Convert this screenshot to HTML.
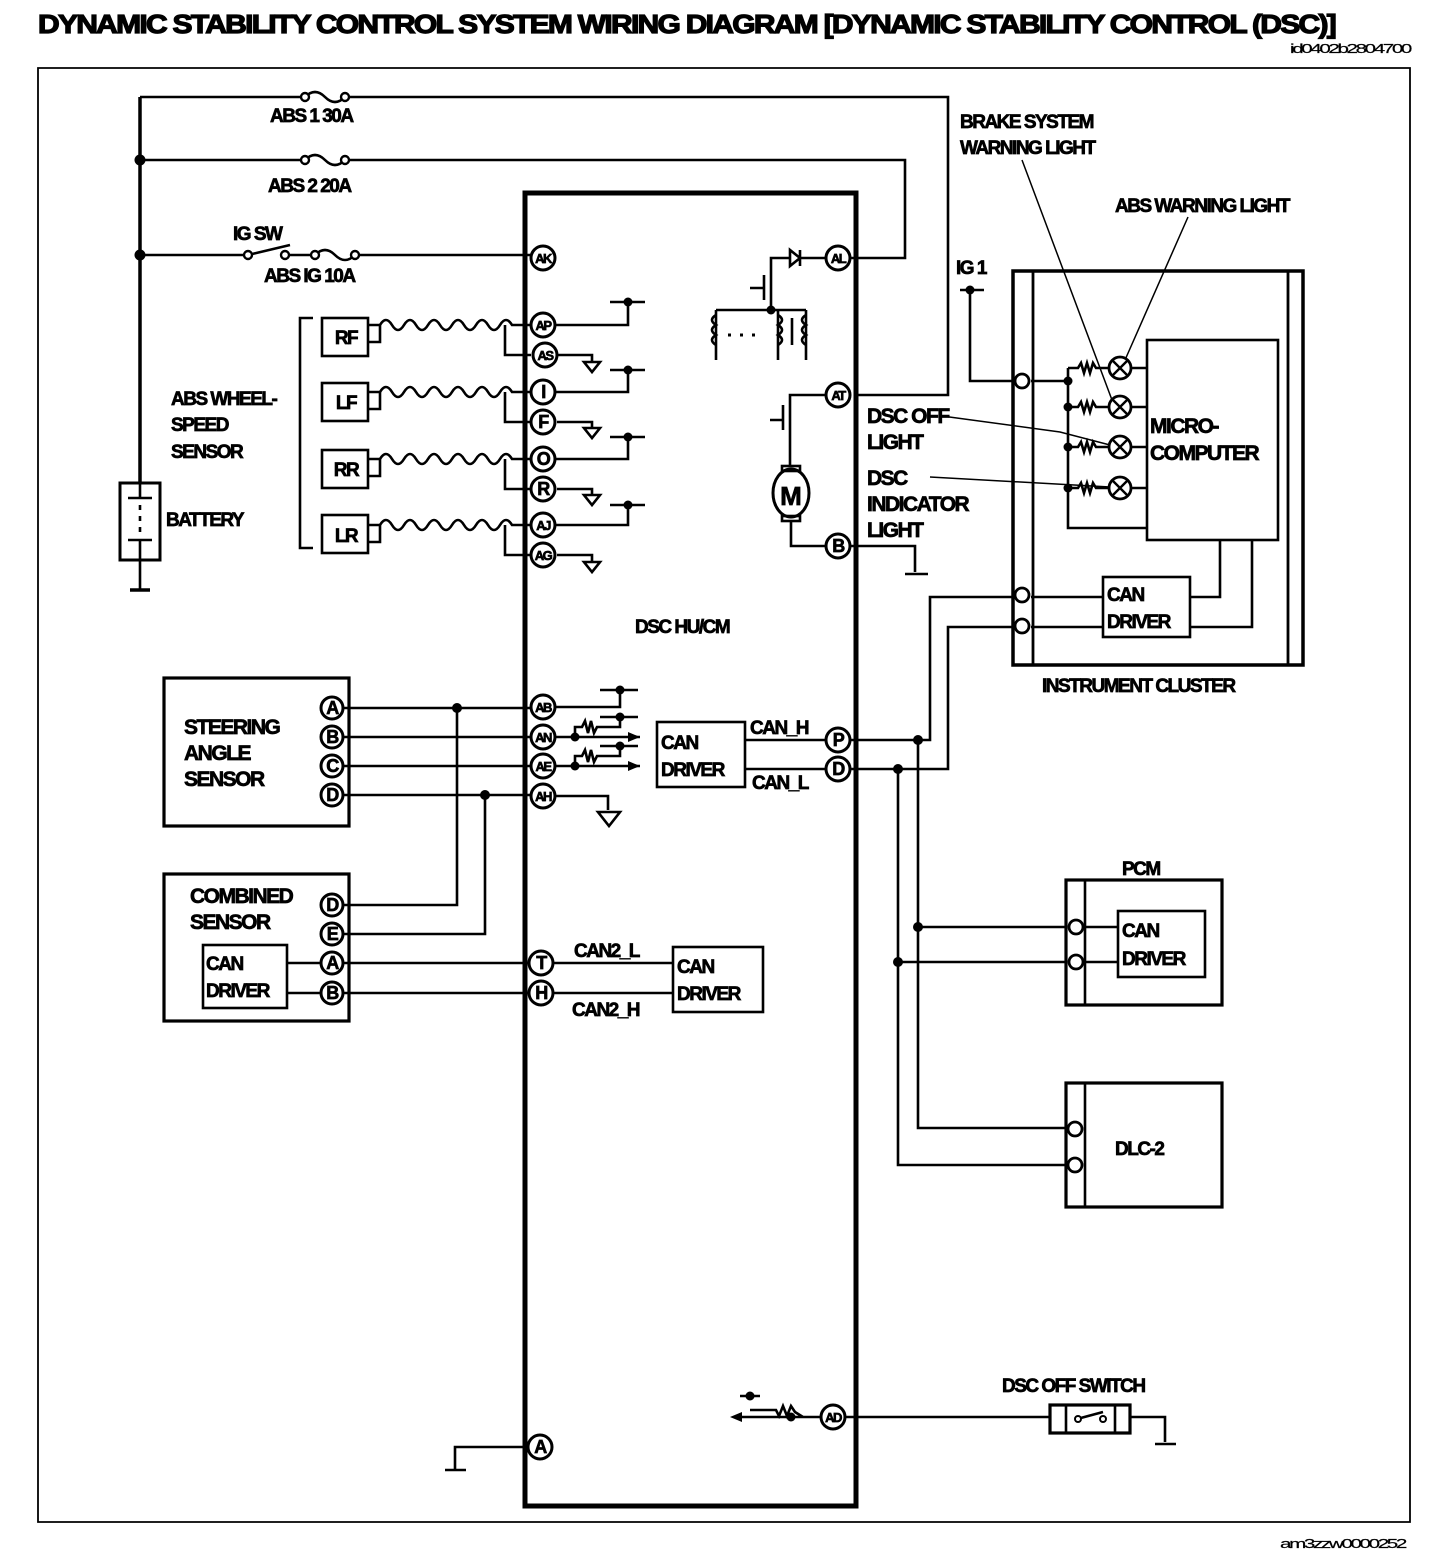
<!DOCTYPE html>
<html><head><meta charset="utf-8"><style>
html,body{margin:0;padding:0;background:#fff;}
svg{display:block;}
text{font-family:"Liberation Sans",sans-serif;font-weight:bold;fill:#000;stroke:#000;stroke-width:0.7px;letter-spacing:-1.5px;}
</style></head><body>
<svg width="1456" height="1568" viewBox="0 0 1456 1568" xmlns="http://www.w3.org/2000/svg">
<text x="38" y="33" font-size="26" style="stroke-width:1.2px" textLength="1297" lengthAdjust="spacingAndGlyphs">DYNAMIC STABILITY CONTROL SYSTEM WIRING DIAGRAM [DYNAMIC STABILITY CONTROL (DSC)]</text>
<text x="1290" y="53" font-size="13" style="font-weight:normal;stroke-width:0.2px" textLength="120" lengthAdjust="spacingAndGlyphs">id0402b2804700</text>
<text x="1280" y="1548" font-size="13" style="font-weight:normal;stroke-width:0.2px" textLength="125" lengthAdjust="spacingAndGlyphs">am3zzw0000252</text>

<g fill="none" stroke="#000" stroke-width="2.6">
<path d="M38 68 H1410 V1522 H38 Z" stroke-width="1.8"/>
<path d="M140 97 V483" stroke-width="3.5"/>
<path d="M140 97 H305 M345 97 H948 V395 H858"/>
<path d="M305 97 q10 -10 20 0 q10 10 20 0" />
<path d="M140 160 H305 M345 160 H905 V258 H850"/>
<path d="M305 160 q10 -10 20 0 q10 10 20 0"/>
<path d="M140 255 H245 M248 255 L290 245 M285 255 H315 M355 255 H530"/>
<path d="M315 255 q10 -10 20 0 q10 10 20 0"/>
<rect x="120" y="483" width="40" height="77" stroke-width="3"/>
<path d="M140 483 V498 M128 498 H152 M140 505 V510 M140 516 V521 M140 527 V532 M128 540 H152 M140 540 V590"/>
<path d="M130 590 H150" stroke-width="3.5"/>
<rect x="525" y="193" width="331" height="1313" stroke-width="5"/>
<path d="M313 318 H300 V548 H313"/>
<rect x="322" y="318" width="46" height="38"/>
<rect x="322" y="383" width="46" height="38"/>
<rect x="322" y="450" width="46" height="38"/>
<rect x="322" y="515" width="46" height="38"/>
</g>
<g fill="none" stroke="#000" stroke-width="2.6">
<g id="s1">
<path d="M368 325 H380 V342 H368"/>
<path d="M380 325 q6 -10 12 0 q6 10 12 0 q6 -10 12 0 q6 10 12 0 q6 -10 12 0 q6 10 12 0 q6 -10 12 0 q6 10 12 0 q6 -10 12 0 q6 10 12 0 q6 -10 12 0 H531"/>
<path d="M505 325 V355 H531"/>
</g>
<use href="#s1" y="67"/>
<use href="#s1" y="134"/>
<use href="#s1" y="200"/>
<path d="M555 325 H628 V302 M610 302 H645"/>
<path d="M557 355 H592 V362"/><path d="M584 362 H600 L592 372 Z"/>
<path d="M555 392 H628 V370 M610 370 H645"/>
<path d="M557 422 H592 V428"/><path d="M584 428 H600 L592 438 Z"/>
<path d="M555 459 H628 V437 M610 437 H645"/>
<path d="M557 489 H592 V495"/><path d="M584 495 H600 L592 505 Z"/>
<path d="M555 525 H628 V505 M610 505 H645"/>
<path d="M557 555 H592 V562"/><path d="M584 562 H600 L592 572 Z"/>
</g>
<g fill="#000">
<circle cx="140" cy="160" r="5.5"/><circle cx="140" cy="255" r="5.5"/>
<circle cx="628" cy="302" r="4.5"/><circle cx="628" cy="370" r="4.5"/><circle cx="628" cy="437" r="4.5"/><circle cx="628" cy="505" r="4.5"/>
</g>
<g fill="#fff" stroke="#000" stroke-width="3">
<circle cx="543" cy="258" r="12"/><circle cx="543" cy="325" r="12"/><circle cx="545" cy="355" r="12"/>
<circle cx="543" cy="392" r="12"/><circle cx="543" cy="422" r="12"/><circle cx="543" cy="459" r="12"/>
<circle cx="543" cy="489" r="12"/><circle cx="543" cy="525" r="12"/><circle cx="543" cy="555" r="12"/>
<circle cx="838" cy="258" r="12"/><circle cx="838" cy="395" r="12"/><circle cx="838" cy="546" r="12"/>
<circle cx="543" cy="707" r="12"/><circle cx="543" cy="737" r="12"/><circle cx="543" cy="766" r="12"/><circle cx="543" cy="796" r="12"/>
<circle cx="838" cy="740" r="12"/><circle cx="838" cy="769" r="12"/>
<circle cx="541" cy="963" r="12"/><circle cx="541" cy="993" r="12"/>
<circle cx="540" cy="1447" r="12"/><circle cx="833" cy="1417" r="12"/>
<circle cx="332" cy="708" r="11"/><circle cx="332" cy="737" r="11"/><circle cx="332" cy="766" r="11"/><circle cx="332" cy="795" r="11"/>
<circle cx="332" cy="905" r="11"/><circle cx="332" cy="934" r="11"/><circle cx="332" cy="963" r="11"/><circle cx="332" cy="993" r="11"/>
</g>
<g font-size="14" text-anchor="middle">
<text x="543" y="263" font-size="13">AK</text><text x="543" y="330" font-size="13">AP</text><text x="545" y="360" font-size="13">AS</text>
<text x="543" y="398" font-size="18">I</text><text x="543" y="428" font-size="18">F</text><text x="543" y="465" font-size="18">O</text>
<text x="543" y="495" font-size="18">R</text><text x="543" y="530" font-size="13">AJ</text><text x="543" y="560" font-size="13">AG</text>
<text x="838" y="263" font-size="13">AL</text><text x="838" y="400" font-size="13">AT</text><text x="838" y="552" font-size="18">B</text>
<text x="543" y="712" font-size="13">AB</text><text x="543" y="742" font-size="13">AN</text><text x="543" y="771" font-size="13">AE</text><text x="543" y="801" font-size="13">AH</text>
<text x="838" y="746" font-size="18">P</text><text x="838" y="775" font-size="18">D</text>
<text x="541" y="969" font-size="18">T</text><text x="541" y="999" font-size="18">H</text>
<text x="540" y="1453" font-size="18">A</text><text x="833" y="1422" font-size="13">AD</text>
<text x="332" y="714" font-size="18">A</text><text x="332" y="743" font-size="18">B</text><text x="332" y="772" font-size="18">C</text><text x="332" y="801" font-size="18">D</text>
<text x="332" y="911" font-size="18">D</text><text x="332" y="940" font-size="18">E</text><text x="332" y="969" font-size="18">A</text><text x="332" y="999" font-size="18">B</text>
</g>

<g fill="none" stroke="#000" stroke-width="2.6">
<path d="M826 258 H800 M800 250 V266 M800 258 L790 250 V266 Z"/>
<path d="M790 258 H771 V310 M771 278 V298 M764 275 V300 M750 288 H764"/>
<path d="M716 310 H806 M716 310 V360 M778 310 V360 M806 310 V360"/>
<path d="M716 315 q-8 5 0 10 q-8 5 0 10 q-8 5 0 10"/>
<path d="M778 315 q8 5 0 10 q8 5 0 10 q8 5 0 10 M792 318 V345"/>
<path d="M806 315 q-8 5 0 10 q-8 5 0 10 q-8 5 0 10"/>
<path d="M826 395 H790 V440 M790 405 V428 M783 405 V430 M770 420 H783"/>
<path d="M790 440 V466"/>
<ellipse cx="791" cy="493" rx="18" ry="24" stroke-width="3"/>
<rect x="782" y="466" width="18" height="5"/><rect x="782" y="516" width="18" height="5"/>
<path d="M791 521 V546 H826 M850 546 H915 V572 M905 574 H928" />
</g>
<g fill="#000"><circle cx="771" cy="310" r="4.5"/>
<path d="M728 335 h3 M740 335 h3 M752 335 h3" stroke="#000" stroke-width="3"/></g>
<text x="791" y="505" font-size="26" text-anchor="middle" style="letter-spacing:0">M</text>
<text x="635" y="633" font-size="19">DSC HU/CM</text>

<g fill="none" stroke="#000" stroke-width="2.6">
<rect x="164" y="678" width="185" height="148" stroke-width="3.2"/>
<rect x="164" y="874" width="185" height="147" stroke-width="3.2"/>
<rect x="203" y="945" width="84" height="63"/>
<path d="M287 963 H321 M287 993 H321"/>
<path d="M343 708 H531 M343 737 H531 M343 766 H531 M343 795 H531"/>
<path d="M457 708 V905 H343 M485 795 V934 H343"/>
<path d="M343 963 H529 M343 993 H529"/>
<path d="M555 707 H620 V690 M600 690 H638"/>
<path d="M555 737 H575 V727 L582 727 l3 -6 l3 12 l3 -12 l3 12 l3 -6 H620 V717 M600 717 H638"/>
<path d="M555 766 H575 V756 L582 756 l3 -6 l3 12 l3 -12 l3 12 l3 -6 H620 V746 M600 746 H638"/>
<path d="M575 737 H640 M575 766 H640"/>
<path d="M555 796 H608 V810"/><path d="M598 812 H620 L609 826 Z"/>
<rect x="657" y="722" width="88" height="65"/>
<path d="M745 740 H826 M745 769 H826"/>
<rect x="673" y="947" width="90" height="65"/>
<path d="M553 963 H673 M553 993 H673"/>
<path d="M528 1447 H455 V1470 M445 1470 H466"/>
</g>
<g fill="#000">
<circle cx="457" cy="708" r="5"/><circle cx="485" cy="795" r="5"/>
<circle cx="620" cy="690" r="4.5"/><circle cx="620" cy="717" r="4.5"/><circle cx="620" cy="746" r="4.5"/>
<circle cx="575" cy="737" r="4.5"/><circle cx="575" cy="766" r="4.5"/>
<path d="M640 737 l-12 -5 v10 Z M640 766 l-12 -5 v10 Z"/>
</g>
<text x="184" y="734" font-size="21">STEERING</text>
<text x="184" y="760" font-size="21">ANGLE</text>
<text x="184" y="786" font-size="21">SENSOR</text>
<text x="190" y="903" font-size="21">COMBINED</text>
<text x="190" y="929" font-size="21">SENSOR</text>
<text x="206" y="970" font-size="19">CAN</text>
<text x="206" y="997" font-size="19">DRIVER</text>
<text x="661" y="749" font-size="19">CAN</text>
<text x="661" y="776" font-size="19">DRIVER</text>
<text x="750" y="734" font-size="19">CAN_H</text>
<text x="752" y="789" font-size="19">CAN_L</text>
<text x="677" y="973" font-size="19">CAN</text>
<text x="677" y="1000" font-size="19">DRIVER</text>
<text x="574" y="957" font-size="19">CAN2_L</text>
<text x="572" y="1016" font-size="19">CAN2_H</text>

<text x="270" y="122" font-size="19">ABS 1 30A</text>
<text x="268" y="192" font-size="19">ABS 2 20A</text>
<text x="233" y="240" font-size="19">IG SW</text>
<text x="264" y="282" font-size="19">ABS IG 10A</text>
<text x="171" y="405" font-size="19">ABS WHEEL-</text>
<text x="171" y="431" font-size="19">SPEED</text>
<text x="171" y="458" font-size="19">SENSOR</text>
<text x="166" y="526" font-size="19">BATTERY</text>
<g font-size="19" text-anchor="middle">
<text x="346" y="344">RF</text><text x="346" y="409">LF</text><text x="346" y="476">RR</text><text x="346" y="542">LR</text>
</g>
<g fill="#fff" stroke="#000" stroke-width="2.4">
<circle cx="248" cy="255" r="4"/><circle cx="285" cy="255" r="4"/>
<circle cx="305" cy="97" r="4"/><circle cx="345" cy="97" r="4"/>
<circle cx="305" cy="160" r="4"/><circle cx="345" cy="160" r="4"/>
<circle cx="315" cy="255" r="4"/><circle cx="355" cy="255" r="4"/>
</g>

<g fill="none" stroke="#000" stroke-width="2.6">
<path d="M821 1417 H742 M803 1417 L795 1412 l-4 -6 l-4 10 l-4 -10 l-4 10 l-3 -6 H750 M750 1400 V1396 M740 1396 H760"/>
<rect x="1050" y="1405" width="80" height="28" stroke-width="3.2"/>
<path d="M1066 1405 V1433 M1115 1405 V1433 M845 1417 H1050 M1130 1417 H1165 V1442 M1155 1444 H1176"/>
<path d="M1077 1419 L1103 1412"/>
</g>
<g fill="#000"><circle cx="791" cy="1417" r="4.5"/><circle cx="750" cy="1396" r="4.5"/><path d="M730 1417 l12 -5 v10 Z"/></g>
<g fill="#fff" stroke="#000" stroke-width="2"><circle cx="1078" cy="1419" r="3"/><circle cx="1103" cy="1419" r="3"/></g>
<text x="1002" y="1392" font-size="19">DSC OFF SWITCH</text>

<g fill="none" stroke="#000" stroke-width="2.6">
<path d="M850 740 H930 V597 H1013 M850 769 H948 V627 H1013"/>
<path d="M918 740 V1128 H1066 M898 769 V1165 H1066 M918 927 H1066 M898 962 H1066"/>
<rect x="1066" y="880" width="156" height="125" stroke-width="3.2"/>
<path d="M1085 880 V1005"/>
<rect x="1118" y="911" width="87" height="66"/>
<path d="M1086 927 H1118 M1086 962 H1118"/>
<rect x="1066" y="1083" width="156" height="124" stroke-width="3.2"/>
<path d="M1085 1083 V1207"/>
<rect x="1013" y="271" width="290" height="394" stroke-width="3.5"/>
<path d="M1033 271 V665 M1288 271 V665" stroke-width="2.8"/>
<path d="M960 290 H984 M970 290 V381 H1013 M1031 381 H1068"/>
<rect x="1147" y="340" width="131" height="200"/>
<path d="M1068 368 V528 H1147"/>
<g id="lamp"><path d="M1068 368 H1078 l3 -5 l3 10 l3 -10 l3 10 l3 -10 l3 5 H1108 M1132 368 H1147"/></g>
<use href="#lamp" y="39"/><use href="#lamp" y="79"/><use href="#lamp" y="120"/>
<rect x="1103" y="577" width="87" height="60"/>
<path d="M1031 597 H1103 M1031 627 H1103 M1190 597 H1220 V540 M1190 627 H1252 V540"/>
<path d="M1022 160 L1112 400 M1188 217 L1125 360 M942 416 L1060 432 L1110 445 M930 477 L1110 487" stroke-width="1.5"/>
</g>
<g fill="#fff" stroke="#000" stroke-width="2.8">
<circle cx="1076" cy="927" r="7"/><circle cx="1076" cy="962" r="7"/>
<circle cx="1075" cy="1129" r="7"/><circle cx="1075" cy="1165" r="7"/>
<circle cx="1022" cy="381" r="7"/><circle cx="1022" cy="595" r="7"/><circle cx="1022" cy="626" r="7"/>
<circle cx="1120" cy="368" r="11"/><circle cx="1120" cy="407" r="11"/><circle cx="1120" cy="447" r="11"/><circle cx="1120" cy="488" r="11"/>
</g>
<g stroke="#000" stroke-width="2.4"><path d="M1112 360 L1128 376 M1128 360 L1112 376 M1112 399 L1128 415 M1128 399 L1112 415 M1112 439 L1128 455 M1128 439 L1112 455 M1112 480 L1128 496 M1128 480 L1112 496"/></g>
<g fill="#000"><circle cx="970" cy="290" r="4.5"/><circle cx="1068" cy="381" r="4.5"/><circle cx="1068" cy="407" r="4.5"/><circle cx="1068" cy="447" r="4.5"/><circle cx="1068" cy="488" r="4.5"/>
<circle cx="918" cy="740" r="5"/><circle cx="898" cy="769" r="5"/><circle cx="918" cy="927" r="5"/><circle cx="898" cy="962" r="5"/></g>
<text x="1150" y="433" font-size="21">MICRO-</text>
<text x="1150" y="460" font-size="21">COMPUTER</text>
<text x="1107" y="601" font-size="19">CAN</text>
<text x="1107" y="628" font-size="19">DRIVER</text>
<text x="1122" y="937" font-size="19">CAN</text>
<text x="1122" y="965" font-size="19">DRIVER</text>
<text x="1122" y="875" font-size="19">PCM</text>
<text x="1115" y="1155" font-size="19">DLC-2</text>
<text x="1042" y="692" font-size="19">INSTRUMENT CLUSTER</text>
<text x="956" y="274" font-size="19">IG 1</text>
<text x="960" y="128" font-size="19">BRAKE SYSTEM</text>
<text x="960" y="154" font-size="19">WARNING LIGHT</text>
<text x="1115" y="212" font-size="19">ABS WARNING LIGHT</text>
<text x="867" y="423" font-size="21">DSC OFF</text>
<text x="867" y="449" font-size="21">LIGHT</text>
<text x="867" y="485" font-size="21">DSC</text>
<text x="867" y="511" font-size="21">INDICATOR</text>
<text x="867" y="537" font-size="21">LIGHT</text>
</svg>
</body></html>
